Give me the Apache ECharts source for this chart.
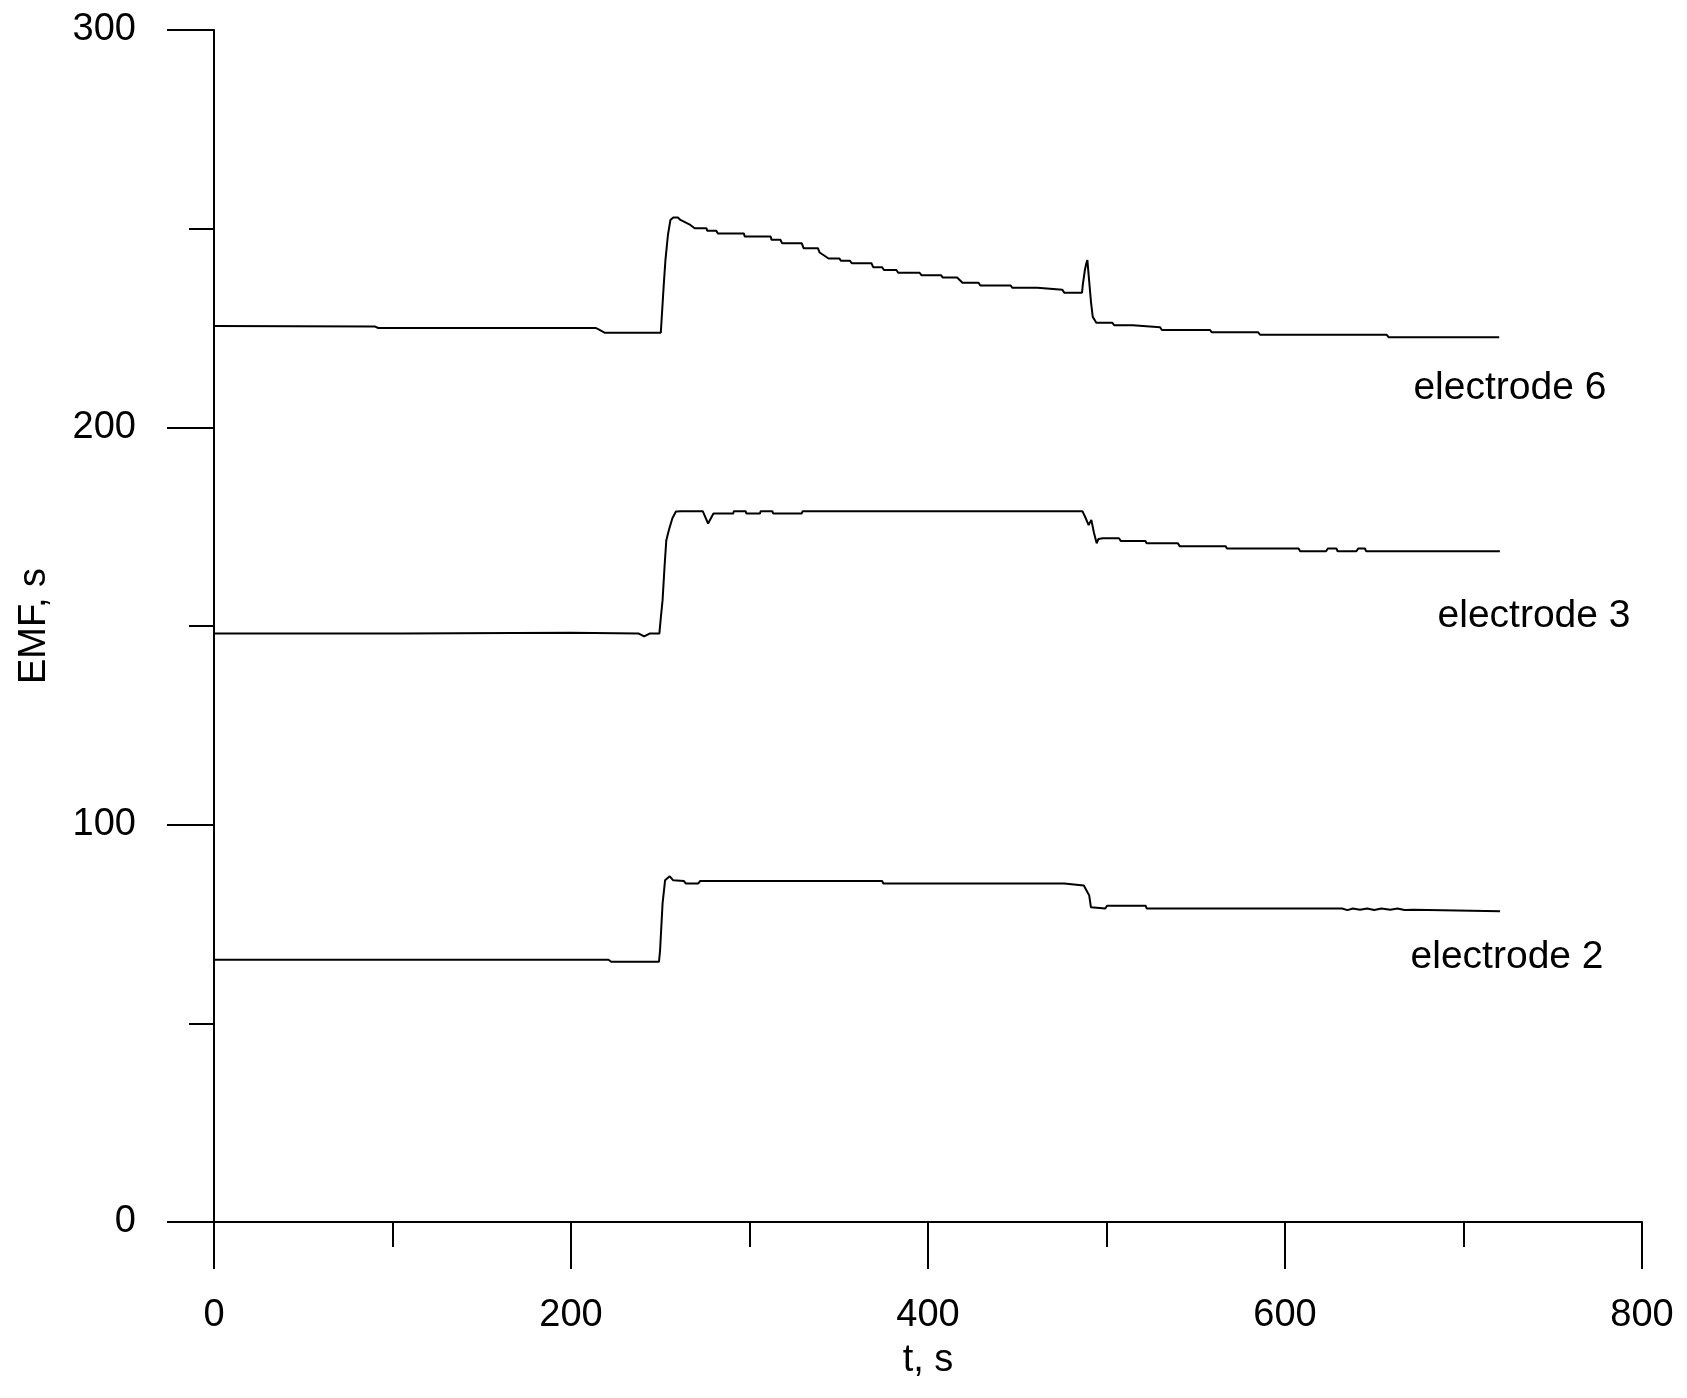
<!DOCTYPE html>
<html>
<head>
<meta charset="utf-8">
<title>EMF vs t</title>
<script src="https://cdn.jsdelivr.net/npm/echarts@6.0.0/dist/echarts.min.js"></script>
<style>
    html, body { margin: 0; padding: 0; background: #fff; }
    #chart { width: 1687px; height: 1398px; }
</style>
</head>
<body>
<div id="chart"></div>
<script>
// electrode 6
var time6 = [0, 90, 92, 214, 216, 219, 250.3, 251.9, 252.9, 254.3, 255.7, 257.3, 259.9, 261.3, 266.3, 269.3, 275.9,
    276.3, 281.3, 282.3, 296.9, 297.3, 311.9, 312.3, 317.3, 318.3, 329.3, 330.3, 338.3, 339.3, 344.3, 350.3, 351.3,
    356.3, 357.3, 368.3, 369.3, 374.3, 375.3, 382.3, 383.3, 395.3, 396.3, 407.3, 408.3, 416.3, 419.3, 428.3, 429.3,
    446.3, 447.3, 461.3, 462.3, 475.3, 476.3, 486.3, 486.7, 487.9, 488.7, 489.3, 489.9, 490.7, 491.3, 492.3, 494.3,
    503.3, 504.3, 514.7, 515.3, 530, 531, 558, 559, 585, 586, 657, 658, 720];
var emf6 = [225.5, 225.4, 225.0, 225.0, 224.5, 223.8, 223.8, 235.4, 242.1, 248.4, 252.2, 252.8, 252.8, 252.2, 251.1, 250.1, 250.1,
    249.5, 249.5, 248.8, 248.8, 248.0, 248.0, 247.2, 247.2, 246.3, 246.3, 245.1, 245.1, 244.0, 242.5, 242.5, 241.9,
    241.9, 241.3, 241.3, 240.3, 240.3, 239.6, 239.6, 238.9, 238.9, 238.3, 238.3, 237.7, 237.7, 236.4, 236.4, 235.7,
    235.7, 235.1, 235.1, 234.6, 234.6, 233.9, 233.9, 235.8, 239.6, 241.3, 242.1, 238.8, 238.3, 231.6, 227.8, 226.3,
    226.3, 225.7, 225.7, 225.2, 225.2, 224.5, 224.5, 223.9, 223.9, 223.3, 223.3, 222.7, 222.7];

// electrode 3
var time3 = [0, 105, 106, 200, 238, 241, 244, 249.5, 250.3, 251.3, 252.4, 253.4, 254.8, 256.8, 258.8, 261.8, 273.8,
    276.8, 279.8, 290.8, 291.3, 297.8, 298.3, 305.8, 306.3, 312.8, 313.3, 329.2, 329.8, 486.5, 488, 489, 490, 491.5,
    493, 494.5, 495.5, 498, 507, 508, 521.8, 522.5, 540, 541, 566.7, 567.5, 607.6, 608.5, 623, 624, 628.8, 629.5,
    640, 641, 644.8, 645.5, 720.4];
var emf3 = [148.1, 148.1, 148.3, 148.3, 148.1, 147.4, 148.1, 148.1, 152.0, 156.5, 164.9, 171.6, 174.1, 177.1, 178.8, 178.9, 178.9,
    175.8, 178.3, 178.3, 178.9, 178.9, 178.3, 178.3, 178.9, 178.9, 178.3, 178.3, 178.9, 178.9, 177.5, 177.0, 175.4, 176.7,
    173.4, 170.8, 171.9, 172.1, 172.1, 171.4, 171.4, 170.8, 170.8, 170.1, 170.1, 169.5, 169.5, 168.8, 168.8, 169.5, 169.5, 168.8,
    168.8, 169.5, 169.5, 168.8, 168.8];

// electrode 2
var time2 = [0, 221, 222.5, 249.3, 249.9, 251.3, 252.7, 255.3, 257.3, 263.3, 264.3, 271.3, 272.3, 374.3, 375, 476.3, 477,
    487.3, 488.5, 490.3, 491.3, 492.3, 499.3, 500.3, 521.9, 522.5, 632, 635, 638, 642, 646, 650, 654, 659, 663, 667,
    672, 673, 720.5];
var emf2 = [66.0, 66.0, 65.5, 65.5, 68.4, 80.2, 86.0, 87.0, 86.0, 85.8, 85.2, 85.2, 85.8, 85.8, 85.2, 85.2, 84.7,
    84.7, 83.7, 82.2, 79.2, 78.9, 78.9, 79.6, 79.6, 78.9, 78.9, 78.5, 78.9, 78.6, 78.9, 78.5, 78.9, 78.6, 78.9, 78.5,
    78.6, 78.2, 78.2];

// labels next to the curves (axis coordinates)
var labelNames = ['electrode 6', 'electrode 3', 'electrode 2'];
var labelT = [726, 739.5, 724.4];
var labelV = [209.8, 152.4, 66.6];

var xTicks = [0, 200, 400, 600, 800];
var yTicks = [0, 100, 200, 300];

var FONT = "'Liberation Sans', Arial, sans-serif";

function pairs(t, v) {
    var out = [];
    for (var i = 0; i < t.length; i++) {
        out.push([t[i], v[i]]);
    }
    return out;
}

function lineSeries(name, t, v, k) {
    return {
        name: name,
        type: 'line',
        data: pairs(t, v),
        showSymbol: false,
        symbol: 'none',
        lineStyle: { color: '#000', width: 2 },
        silent: true,
        markPoint: {
            symbol: 'circle',
            symbolSize: 0,
            silent: true,
            label: {
                show: true,
                position: 'inside',
                formatter: labelNames[k],
                color: '#000',
                fontFamily: FONT,
                fontSize: 39
            },
            data: [{ coord: [labelT[k], labelV[k]] }]
        }
    };
}

var axisLineStyle = { color: '#000', width: 2 };

var chart = echarts.init(document.getElementById('chart'), null, { renderer: 'canvas' });
chart.setOption({
    animation: false,
    backgroundColor: '#fff',
    grid: { left: 214, right: 45, top: 30, bottom: 176, containLabel: false },
    xAxis: {
        type: 'value',
        min: xTicks[0],
        max: xTicks[xTicks.length - 1],
        interval: xTicks[1] - xTicks[0],
        name: 't, s',
        nameLocation: 'middle',
        nameGap: 120,
        nameTextStyle: { color: '#000', fontFamily: FONT, fontSize: 38 },
        axisLine: { show: true, lineStyle: axisLineStyle },
        axisTick: { show: true, inside: false, length: 47, lineStyle: axisLineStyle },
        minorTick: { show: true, splitNumber: 2, length: 25, lineStyle: axisLineStyle },
        axisLabel: { color: '#000', fontFamily: FONT, fontSize: 38, margin: 75 },
        splitLine: { show: false }
    },
    yAxis: {
        type: 'value',
        min: yTicks[0],
        max: yTicks[yTicks.length - 1],
        interval: yTicks[1] - yTicks[0],
        name: 'EMF, s',
        nameLocation: 'middle',
        nameRotate: 90,
        nameGap: 160,
        nameTextStyle: { color: '#000', fontFamily: FONT, fontSize: 38 },
        axisLine: { show: true, lineStyle: axisLineStyle },
        axisTick: { show: true, inside: false, length: 47, lineStyle: axisLineStyle },
        minorTick: { show: true, splitNumber: 2, length: 25, lineStyle: axisLineStyle },
        axisLabel: { color: '#000', fontFamily: FONT, fontSize: 38, margin: 78 },
        splitLine: { show: false }
    },
    series: [
        lineSeries('electrode 6', time6, emf6, 0),
        lineSeries('electrode 3', time3, emf3, 1),
        lineSeries('electrode 2', time2, emf2, 2)
    ]
});
</script>
</body>
</html>
